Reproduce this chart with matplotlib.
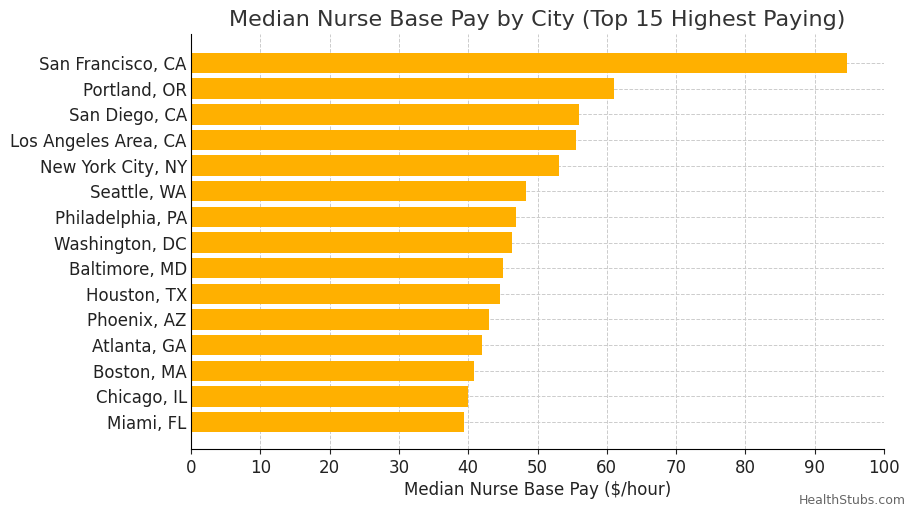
import matplotlib

matplotlib.use("Agg")
import matplotlib.pyplot as plt

cities = [
    "San Francisco, CA", "Portland, OR", "San Diego, CA", "Los Angeles Area, CA",
    "New York City, NY", "Seattle, WA", "Philadelphia, PA", "Washington, DC",
    "Baltimore, MD", "Houston, TX", "Phoenix, AZ", "Atlanta, GA",
    "Boston, MA", "Chicago, IL", "Miami, FL",
]
pay = [94.7, 61.0, 56.0, 55.6, 53.1, 48.3, 46.9, 46.3, 45.0, 44.6, 43.0, 42.0, 40.8, 40.0, 39.4]
xticks = list(range(0, 101, 10))

fig = plt.figure(figsize=(9.15, 5.17), dpi=100)
ax = fig.add_axes([191 / 915, 1 - 449 / 517, 693 / 915, 415 / 517])
ax.barh(cities[::-1], pay[::-1], color="#FFB000", height=0.8, zorder=2)
ax.set_xlim(0, 100)
ax.set_ylim(-1.05, 15.13)
ax.set_xticks(xticks)
ax.grid(True, linestyle="--", color="#cccccc", linewidth=0.7, zorder=0)
for s in ("top", "right"):
    ax.spines[s].set_visible(False)
ax.tick_params(labelsize=12, colors="#222222")
ax.tick_params(axis="y", length=0, pad=3)
ax.set_xlabel("Median Nurse Base Pay ($/hour)", fontsize=12, color="#222222", labelpad=3)
ax.set_title("Median Nurse Base Pay by City (Top 15 Highest Paying)", fontsize=16, color="#333333")
fig.text(0.99, 0.02, "HealthStubs.com", ha="right", va="bottom", fontsize=9, color="#666666")
fig.savefig("out.png", dpi=100)
